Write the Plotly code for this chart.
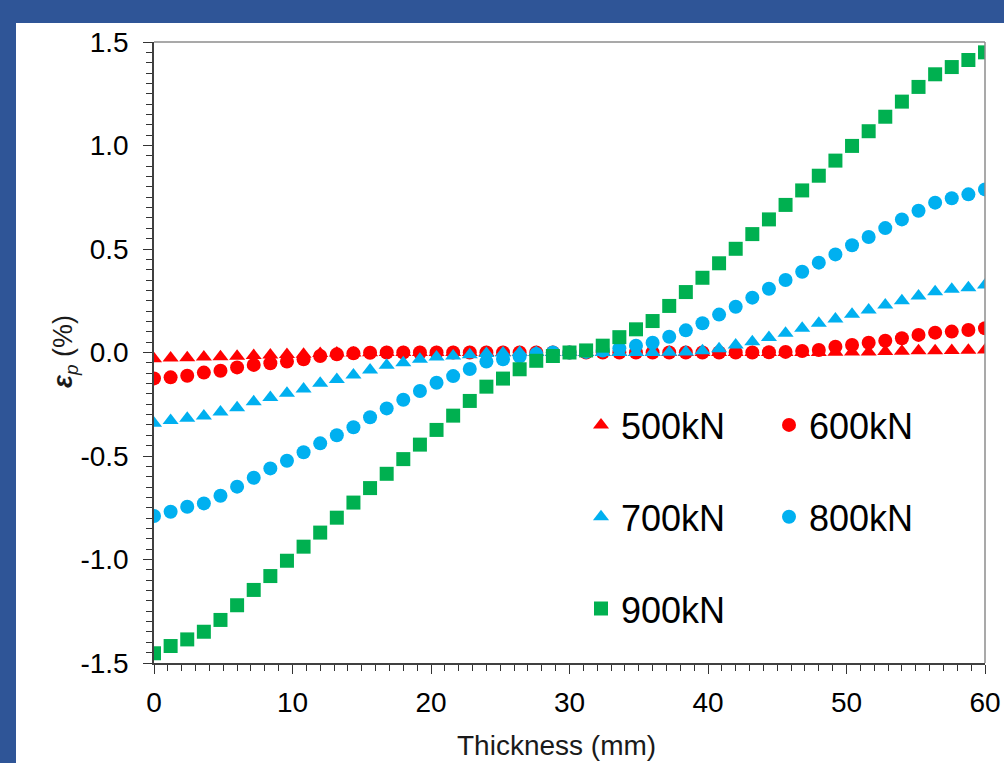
import plotly.graph_objects as go

# ---------------- data ----------------
thickness = [0.0, 1.2, 2.4, 3.6, 4.8, 6.0, 7.2, 8.4, 9.6, 10.8,
             12.0, 13.2, 14.4, 15.6, 16.8, 18.0, 19.2, 20.4, 21.6, 22.8,
             24.0, 25.2, 26.4, 27.6, 28.8, 30.0, 31.2, 32.4, 33.6, 34.8,
             36.0, 37.2, 38.4, 39.6, 40.8, 42.0, 43.2, 44.4, 45.6, 46.8,
             48.0, 49.2, 50.4, 51.6, 52.8, 54.0, 55.2, 56.4, 57.6, 58.8, 60.0]

eps_500 = [-0.030, -0.027, -0.025, -0.022, -0.020, -0.018, -0.015, -0.012, -0.010, -0.008,
           -0.005, -0.003, -0.002, -0.001, 0.000, 0.000, 0.000, 0.000, 0.000, 0.000,
           0.000, 0.000, 0.000, 0.000, 0.000, 0.000, 0.000, 0.000, 0.000, 0.000,
           0.000, 0.000, 0.000, 0.000, 0.000, 0.000, 0.000, 0.000, 0.000, 0.000,
           0.000, 0.001, 0.002, 0.003, 0.005, 0.006, 0.008, 0.009, 0.010, 0.011, 0.012]

eps_600 = [-0.125, -0.120, -0.112, -0.097, -0.088, -0.072, -0.060, -0.052, -0.044, -0.033,
           -0.017, -0.009, -0.004, -0.001, 0.000, 0.000, 0.000, 0.000, 0.000, 0.000,
           0.000, 0.000, 0.000, 0.000, 0.000, 0.000, 0.000, 0.000, 0.000, 0.000,
           0.000, 0.000, 0.000, 0.000, 0.000, 0.000, 0.000, 0.001, 0.003, 0.007,
           0.012, 0.028, 0.036, 0.047, 0.057, 0.069, 0.085, 0.096, 0.101, 0.109, 0.117]

eps_700 = [-0.342, -0.329, -0.318, -0.307, -0.287, -0.267, -0.238, -0.217, -0.197, -0.176,
           -0.149, -0.130, -0.109, -0.085, -0.062, -0.049, -0.033, -0.022, -0.017, -0.011,
           -0.005, -0.002, 0.000, 0.000, 0.000, 0.000, 0.000, 0.000, 0.000, 0.000,
           0.000, 0.001, 0.003, 0.008, 0.018, 0.036, 0.052, 0.073, 0.093, 0.117,
           0.141, 0.162, 0.185, 0.205, 0.229, 0.250, 0.273, 0.294, 0.305, 0.313, 0.326]

eps_800 = [-0.790, -0.769, -0.745, -0.729, -0.692, -0.648, -0.605, -0.560, -0.523, -0.482,
           -0.439, -0.400, -0.361, -0.313, -0.270, -0.228, -0.186, -0.146, -0.114, -0.080,
           -0.044, -0.033, -0.020, -0.007, 0.000, 0.000, 0.003, 0.010, 0.020, 0.033,
           0.047, 0.076, 0.107, 0.141, 0.183, 0.221, 0.265, 0.308, 0.350, 0.390,
           0.434, 0.474, 0.518, 0.558, 0.601, 0.643, 0.685, 0.724, 0.745, 0.764, 0.788]

eps_900 = [-1.453, -1.418, -1.386, -1.349, -1.292, -1.221, -1.147, -1.080, -1.006, -0.938,
           -0.870, -0.798, -0.725, -0.655, -0.586, -0.515, -0.445, -0.374, -0.305, -0.234,
           -0.165, -0.126, -0.081, -0.040, -0.017, 0.000, 0.010, 0.033, 0.074, 0.112,
           0.152, 0.225, 0.292, 0.361, 0.431, 0.501, 0.572, 0.643, 0.713, 0.783,
           0.854, 0.927, 0.998, 1.069, 1.139, 1.212, 1.283, 1.344, 1.379, 1.413, 1.450]

series_names = ["500kN", "600kN", "700kN", "800kN", "900kN"]
x_tickvals = [0, 10, 20, 30, 40, 50, 60]
x_ticktext = ["0", "10", "20", "30", "40", "50", "60"]
y_tickvals = [-1.5, -1.0, -0.5, 0.0, 0.5, 1.0, 1.5]
y_ticktext = ["-1.5", "-1.0", "-0.5", "0.0", "0.5", "1.0", "1.5"]
x_title = "Thickness (mm)"
y_title = "<b><i>ε</i></b><sub><i>p</i></sub> (%)"

# ---------------- styling ----------------
FONT = "Liberation Sans, Arial, sans-serif"
RED = "#FF0000"
BLUE = "#00B0F0"
GREEN = "#00B050"
BORDER_BLUE = "#2F5597"

styles = [
    dict(symbol="triangle-up", color=RED, size=14, legend="legend"),
    dict(symbol="circle", color=RED, size=14, legend="legend2"),
    dict(symbol="triangle-up", color=BLUE, size=14, legend="legend"),
    dict(symbol="circle", color=BLUE, size=14, legend="legend2"),
    dict(symbol="square", color=GREEN, size=14, legend="legend"),
]
all_series = [eps_500, eps_600, eps_700, eps_800, eps_900]

fig = go.Figure()
for name, ys, st in zip(series_names, all_series, styles):
    fig.add_trace(go.Scatter(
        x=thickness, y=ys, mode="markers", name=name,
        legendgroup=name, legend=st["legend"],
        marker=dict(symbol=st["symbol"], color=st["color"], size=st["size"],
                    line=dict(width=0)),
    ))

W, H = 1004, 763
L, R, T, B = 154, 19, 42, 100
pw, ph = W - L - R, H - T - B


def px_to_paper_x(px):
    return (px - L) / pw


def px_to_paper_y(py):
    return (H - B - py) / ph


legend_common = dict(
    font=dict(family=FONT, size=36, color="black"),
    bgcolor="rgba(0,0,0,0)",
    borderwidth=0,
    orientation="v",
    tracegroupgap=42,
    xanchor="left", yanchor="top",
    itemclick=False, itemdoubleclick=False,
)

fig.update_layout(
    width=W, height=H,
    margin=dict(l=L, r=R, t=T, b=B, pad=0, autoexpand=False),
    paper_bgcolor=BORDER_BLUE,
    plot_bgcolor="white",
    font=dict(family=FONT, size=28, color="black"),
    showlegend=True,
    legend=dict(x=px_to_paper_x(581), y=px_to_paper_y(395), **legend_common),
    legend2=dict(x=px_to_paper_x(769), y=px_to_paper_y(395), **legend_common),
    shapes=[
        # white panel inside the blue frame
        dict(type="rect", xref="paper", yref="paper", layer="below",
             x0=px_to_paper_x(16), x1=px_to_paper_x(1010),
             y0=px_to_paper_y(770), y1=px_to_paper_y(23),
             fillcolor="white", line=dict(width=0)),
        # top and right frame lines of plot area
        dict(type="line", xref="paper", yref="paper", x0=0, x1=1, y0=1, y1=1,
             line=dict(color="#8C8C8C", width=1.5)),
        dict(type="line", xref="paper", yref="paper", x0=1, x1=1, y0=0, y1=1,
             line=dict(color="#8C8C8C", width=1.5)),
    ],
    annotations=[
        dict(text=x_title, xref="paper", yref="paper",
             x=px_to_paper_x(556), y=px_to_paper_y(745),
             xanchor="center", yanchor="middle", showarrow=False,
             font=dict(family=FONT, size=28, color="#1a1a1a")),
        dict(text=y_title, xref="paper", yref="paper",
             x=px_to_paper_x(65), y=px_to_paper_y(352),
             xanchor="center", yanchor="middle", showarrow=False, textangle=-90,
             font=dict(family=FONT, size=27, color="#1a1a1a")),
    ],
)

fig.update_xaxes(
    range=[0, 60], tickvals=x_tickvals, ticktext=x_ticktext,
    automargin=False,
    showgrid=False, zeroline=False,
    showline=True, linecolor="#404040", linewidth=1.5,
    ticks="outside", ticklen=9, tickwidth=1.3, tickcolor="#333333",
    ticklabelstandoff=5,
    tickfont=dict(family=FONT, size=28, color="black"),
    minor=dict(ticks="outside", dtick=1, ticklen=6, tickwidth=1, tickcolor="#333333",
               showgrid=False),
)

fig.update_yaxes(
    range=[-1.5, 1.5], tickvals=y_tickvals, ticktext=y_ticktext,
    automargin=False,
    showgrid=False, zeroline=False,
    showline=True, linecolor="#404040", linewidth=1.5,
    ticks="outside", ticklen=9, tickwidth=1.3, tickcolor="#333333",
    ticklabelstandoff=9,
    tickfont=dict(family=FONT, size=28, color="black"),
    minor=dict(ticks="outside", dtick=0.05, ticklen=6, tickwidth=1, tickcolor="#333333",
               showgrid=False),
)

fig.write_html("out.html")
